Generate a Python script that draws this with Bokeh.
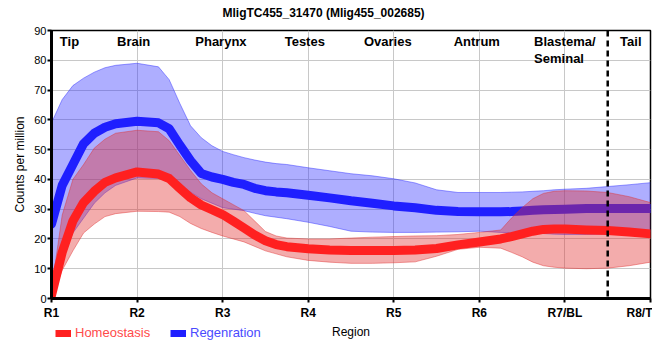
from bokeh.plotting import figure
from bokeh.layouts import column
from bokeh.models import FixedTicker, Span, Legend, LegendItem, ColumnDataSource
from bokeh.core.properties import value
from bokeh.embed import file_html
from bokeh.resources import INLINE

FONT = "Liberation Sans"

# sample positions along the body (0 = R1 ... 7 = R8/T)
pos = [0, 0.125, 0.25, 0.375, 0.5, 0.625, 0.75,
       1, 1.25, 1.375, 1.5, 1.625, 1.75, 1.875,
       2, 2.125, 2.25, 2.375, 2.5, 2.625, 2.75,
       3, 3.25, 3.5, 3.75,
       4, 4.25, 4.5, 4.75,
       5, 5.25, 5.375, 5.5, 5.625, 5.75, 5.875,
       6, 6.25, 6.5, 6.75, 7]

reg_mean = [25, 38, 45, 52, 55.5, 57.5, 58.7,
            59.5, 59, 57, 51.5, 46.3, 42, 40.8,
            40, 39, 38.3, 37, 36.2, 35.8, 35.5,
            34.7, 33.8, 32.8, 32,
            31.1, 30.5, 29.6, 29.2,
            29.1, 29.1, 29.2, 29.4, 29.6, 29.8, 29.9,
            30, 30.2, 30.2, 30.2, 30.2]
reg_upper = [59, 66.8, 71.5, 74, 76, 77.5, 78.3,
             79, 77.8, 73.5, 65.5, 58, 54, 51.3,
             49.4, 48.3, 47.3, 46.5, 45.8, 45.3, 45,
             43.9, 42.9, 41.9, 41.2,
             40.2, 38.8, 36.5, 35.6,
             35.6, 35.6, 35.7, 35.8, 36, 36.2, 36.5,
             36.7, 37, 37.6, 38.2, 38.9]
reg_lower = [5, 14, 22, 27, 32, 35.5, 38,
             40.5, 40.3, 39.5, 37.8, 35.7, 33.5, 32,
             30.5, 30, 29.5, 28.6, 27.8, 27.3, 26.8,
             25.6, 24.2, 22.6, 22.3,
             22.2, 22.2, 22.3, 22.4,
             22.6, 22.2, 22.1, 22, 21.9, 21.8, 21.6,
             21.5, 21.5, 21.7, 22, 22.5]

hom_mean = [1, 15.5, 26, 32.2, 36, 39, 40.5,
            42.5, 41.8, 40.3, 37, 33.8, 31.4, 29.8,
            28.2, 26, 23.7, 21.3, 19.4, 18.1, 17.4,
            16.7, 16.3, 16.1, 16.1,
            16.1, 16.3, 16.8, 18,
            19, 20, 20.8, 21.7, 22.6, 23.2, 23.3,
            23.3, 23, 22.8, 22.3, 21.7]
hom_upper = [3, 28, 40, 45, 50.5, 53.5, 55.5,
             56.5, 56, 53, 48, 43, 38.5, 35.5,
             33.5, 31.5, 29.5, 26, 22.5, 21, 20.3,
             20, 20, 20.3, 20.6,
             20.8, 21, 21.1, 21.5,
             22.2, 23, 27, 30.5, 33.5, 35.3, 36,
             36.2, 36.1, 35.6, 34.2, 32.2]
hom_lower = [0, 9.5, 16, 22, 25, 27.5, 28.5,
             29.3, 29.2, 29, 27.5, 25.2, 23.5, 22.2,
             21, 20, 19, 17.5, 16, 15, 14,
             12.8, 12.2, 11.8, 11.8,
             12, 12.3, 14.2, 16.5,
             17.2, 16.9, 15.5, 14, 12.2, 11, 10.5,
             10.2, 10, 10.2, 11, 12.2]

tick_pos = [0, 1, 2, 3, 4, 5, 6, 7]
tick_labels = ["R1", "R2", "R3", "R4", "R5", "R6", "R7/BL", "R8/T"]
y_ticks = [0, 10, 20, 30, 40, 50, 60, 70, 80, 90]

region_names = ["Tip", "Brain", "Pharynx", "Testes", "Ovaries", "Antrum", "Tail"]
region_x = [0.21, 0.96, 1.98, 2.96, 3.93, 4.97, 6.77]
blast_name = ["Blastema/\nSeminal"]
blast_x = [5.64]
label_y = 88.8
tail_boundary = 6.5

title_text = "MligTC455_31470 (Mlig455_002685)"
x_label = "Region"
y_label = "Counts per million"
series_names = ["Homeostasis", "Regenration"]

BLUE = "#1f1fff"
RED = "#ff2020"
BLUE_FILL = "#2a2aff"
RED_FILL = "#e03030"

p = figure(width=652, height=322, x_range=(0, 7), y_range=(0, 90),
           output_backend="svg", toolbar_location=None,
           min_border_left=51, min_border_right=2, min_border_top=30, min_border_bottom=22)

p.title.text = title_text
p.title.align = "left"
p.title.offset = 171
p.title.standoff = 0
p.title.padding = dict(left=0, right=0, top=0, bottom=11)
p.title.text_font = FONT
p.title.text_font_size = "12px"
p.title.text_font_style = "bold"
p.title.text_color = "black"

p.outline_line_color = "black"
p.outline_line_width = 1.5
p.outline_line_alpha = 1

src = ColumnDataSource(dict(x=pos, rm=reg_mean, ru=reg_upper, rl=reg_lower,
                            hm=hom_mean, hu=hom_upper, hl=hom_lower))

# regeneration band + line
p.varea(x="x", y1="rl", y2="ru", source=src, fill_color=BLUE_FILL, fill_alpha=0.38)
p.line(x="x", y="ru", source=src, line_color=BLUE_FILL, line_alpha=0.45, line_width=1)
p.line(x="x", y="rl", source=src, line_color=BLUE_FILL, line_alpha=0.45, line_width=1)
p.line(x="x", y="rm", source=src, line_color=BLUE, line_width=9, line_cap="round", line_join="round")

# homeostasis band + line
p.varea(x="x", y1="hl", y2="hu", source=src, fill_color=RED_FILL, fill_alpha=0.4)
p.line(x="x", y="hu", source=src, line_color=RED_FILL, line_alpha=0.45, line_width=1)
p.line(x="x", y="hl", source=src, line_color=RED_FILL, line_alpha=0.45, line_width=1)
p.line(x="x", y="hm", source=src, line_color=RED, line_width=9, line_cap="round", line_join="round")

p.add_layout(Span(location=tail_boundary, dimension="height", line_color="black",
                  line_width=2.5, line_dash="6 4"))

p.text(x=region_x, y=[label_y] * len(region_x), text=region_names,
       text_font=value(FONT), text_font_size="13px", text_font_style="bold",
       text_align="center", text_baseline="top", text_color="black")
p.text(x=blast_x, y=[label_y], text=blast_name,
       text_font=value(FONT), text_font_size="13px", text_font_style="bold",
       text_align="left", text_baseline="top", text_color="black", text_line_height=1.1)

# axes
p.xaxis.ticker = FixedTicker(ticks=tick_pos)
p.xaxis.major_label_overrides = {t: l for t, l in zip(tick_pos, tick_labels)}
p.yaxis.ticker = FixedTicker(ticks=y_ticks)
for ax in (p.xaxis, p.yaxis):
    ax.axis_line_width = 3
    ax.axis_line_color = "black"
    ax.major_tick_in = 0
    ax.major_tick_out = 4
    ax.major_tick_line_width = 2
    ax.minor_tick_line_color = None
    ax.major_label_text_font = FONT
    ax.major_label_text_color = "black"
    ax.axis_label_text_font = FONT
    ax.axis_label_text_font_style = "normal"
    ax.axis_label_text_font_size = "12px"
    ax.axis_label_text_color = "black"
p.xaxis.major_label_text_font_size = "12px"
p.xaxis.major_label_text_font_style = "bold"
p.yaxis.major_label_text_font_size = "11px"
p.yaxis.axis_label = y_label
p.yaxis.axis_label_standoff = 4
p.xaxis.major_label_standoff = 3
p.yaxis.major_label_standoff = 1

p.xgrid.ticker = FixedTicker(ticks=tick_pos)
p.ygrid.ticker = FixedTicker(ticks=y_ticks)
p.grid.grid_line_color = "#c8c8c8"
p.grid.grid_line_width = 1

# legend strip + x-axis title, aligned with the main frame
s = figure(width=652, height=30, x_range=(0, 7), y_range=(0, 30),
           output_backend="svg", toolbar_location=None,
           x_axis_location=None, y_axis_location=None,
           min_border_left=51, min_border_right=2, min_border_top=0, min_border_bottom=0)
s.grid.visible = False
s.outline_line_color = None
nan = float("nan")
lh = s.line(x=[nan, nan], y=[nan, nan], line_color=RED, line_width=7)
lr = s.line(x=[nan, nan], y=[nan, nan], line_color=BLUE, line_width=7)
s.text(x=[3.5], y=[20.5], text=[x_label], text_font=value(FONT), text_font_size="12px",
       text_align="center", text_baseline="middle", text_color="black")

leg1 = Legend(items=[LegendItem(label=series_names[0], renderers=[lh])],
              location=(4, 12), padding=0, margin=0, glyph_width=16, glyph_height=8,
              label_standoff=4, label_text_font=FONT, label_text_font_size="13px",
              label_text_color="#ff4a4a", border_line_alpha=0, background_fill_alpha=0)
leg2 = Legend(items=[LegendItem(label=series_names[1], renderers=[lr])],
              location=(119, 12), padding=0, margin=0, glyph_width=16, glyph_height=8,
              label_standoff=4, label_text_font=FONT, label_text_font_size="13px",
              label_text_color="#4a4aff", border_line_alpha=0, background_fill_alpha=0)
s.add_layout(leg1)
s.add_layout(leg2)

layout = column(p, s, spacing=0)
open("out.html", "w").write(file_html(layout, INLINE))
